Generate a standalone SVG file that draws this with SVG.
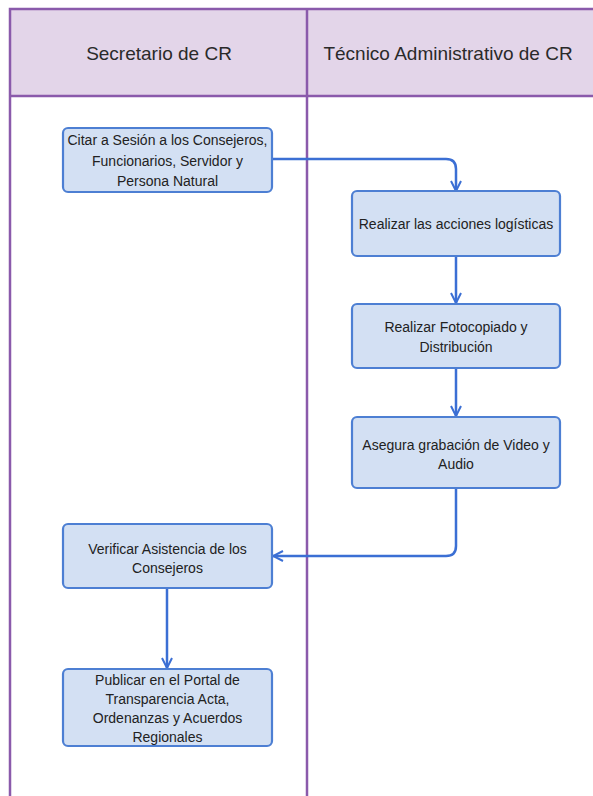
<svg xmlns="http://www.w3.org/2000/svg" width="593" height="796" viewBox="0 0 593 796">
  <style>
    .lane-head { fill: #e3d5e9; }
    .lane-line { stroke: #8a5aab; stroke-width: 2.5; fill: none; }
    .head-text { font-family: "Liberation Sans", Arial, sans-serif; font-size: 19px; fill: #2a2a2a; text-anchor: middle; }
    .box { fill: #d3e0f3; stroke: #4d7fd3; stroke-width: 2.2; }
    .label { font-family: "Liberation Sans", Arial, sans-serif; font-size: 14px; fill: #222222; text-anchor: middle; }
    .flow { stroke: #3b6fd4; stroke-width: 2.5; fill: none; marker-end: url(#arrow); }
  </style>
  <defs>
    <marker id="arrow" viewBox="0 0 12 12" refX="11" refY="6" markerWidth="12" markerHeight="12" markerUnits="userSpaceOnUse" orient="auto">
      <path d="M1,1 L11,6 L1,11" fill="none" stroke="#3b6fd4" stroke-width="2"/>
    </marker>
  </defs>

  <rect width="593" height="796" fill="#ffffff"/>

  <!-- swimlane frame -->
  <g id="lanes">
    <rect class="lane-head" x="10" y="9" width="583" height="87"/>
    <path class="lane-line" d="M593,9 H10 V796"/>
    <path class="lane-line" d="M10,96 H593"/>
    <path class="lane-line" d="M307,9 V796"/>
    <text class="head-text" x="159" y="60">Secretario de CR</text>
    <text class="head-text" x="448" y="60">Técnico Administrativo de CR</text>
  </g>

  <!-- connectors -->
  <g id="connectors">
    <path class="flow" d="M272,159 H446 Q456,159 456,169 V191"/>
    <path class="flow" d="M456,256 V303"/>
    <path class="flow" d="M456,368 V416"/>
    <path class="flow" d="M456,488 V546 Q456,556 446,556 H273"/>
    <path class="flow" d="M167,588 V668"/>
  </g>

  <g id="citar">
    <rect class="box" x="63" y="128" width="209" height="64" rx="5"/>
    <text class="label" x="167.5" y="145">Citar a Sesión a los Consejeros,</text>
    <text class="label" x="167.5" y="165.5">Funcionarios, Servidor y</text>
    <text class="label" x="167.5" y="186">Persona Natural</text>
  </g>

  <g id="logisticas">
    <rect class="box" x="352" y="191" width="208" height="65" rx="5"/>
    <text class="label" x="456" y="228.5">Realizar las acciones logísticas</text>
  </g>

  <g id="fotocopiado">
    <rect class="box" x="352" y="304" width="208" height="64" rx="5"/>
    <text class="label" x="456" y="332">Realizar Fotocopiado y</text>
    <text class="label" x="456" y="352">Distribución</text>
  </g>

  <g id="grabacion">
    <rect class="box" x="352" y="417" width="208" height="71" rx="5"/>
    <text class="label" x="456" y="450">Asegura grabación de Video y</text>
    <text class="label" x="456" y="469">Audio</text>
  </g>

  <g id="verificar">
    <rect class="box" x="63" y="524" width="209" height="64" rx="5"/>
    <text class="label" x="167.5" y="554">Verificar Asistencia de los</text>
    <text class="label" x="167.5" y="573">Consejeros</text>
  </g>

  <g id="publicar">
    <rect class="box" x="63" y="669" width="209" height="77" rx="5"/>
    <text class="label" x="167.5" y="685">Publicar en el Portal de</text>
    <text class="label" x="167.5" y="704">Transparencia Acta,</text>
    <text class="label" x="167.5" y="723">Ordenanzas y Acuerdos</text>
    <text class="label" x="167.5" y="742">Regionales</text>
  </g>
</svg>
